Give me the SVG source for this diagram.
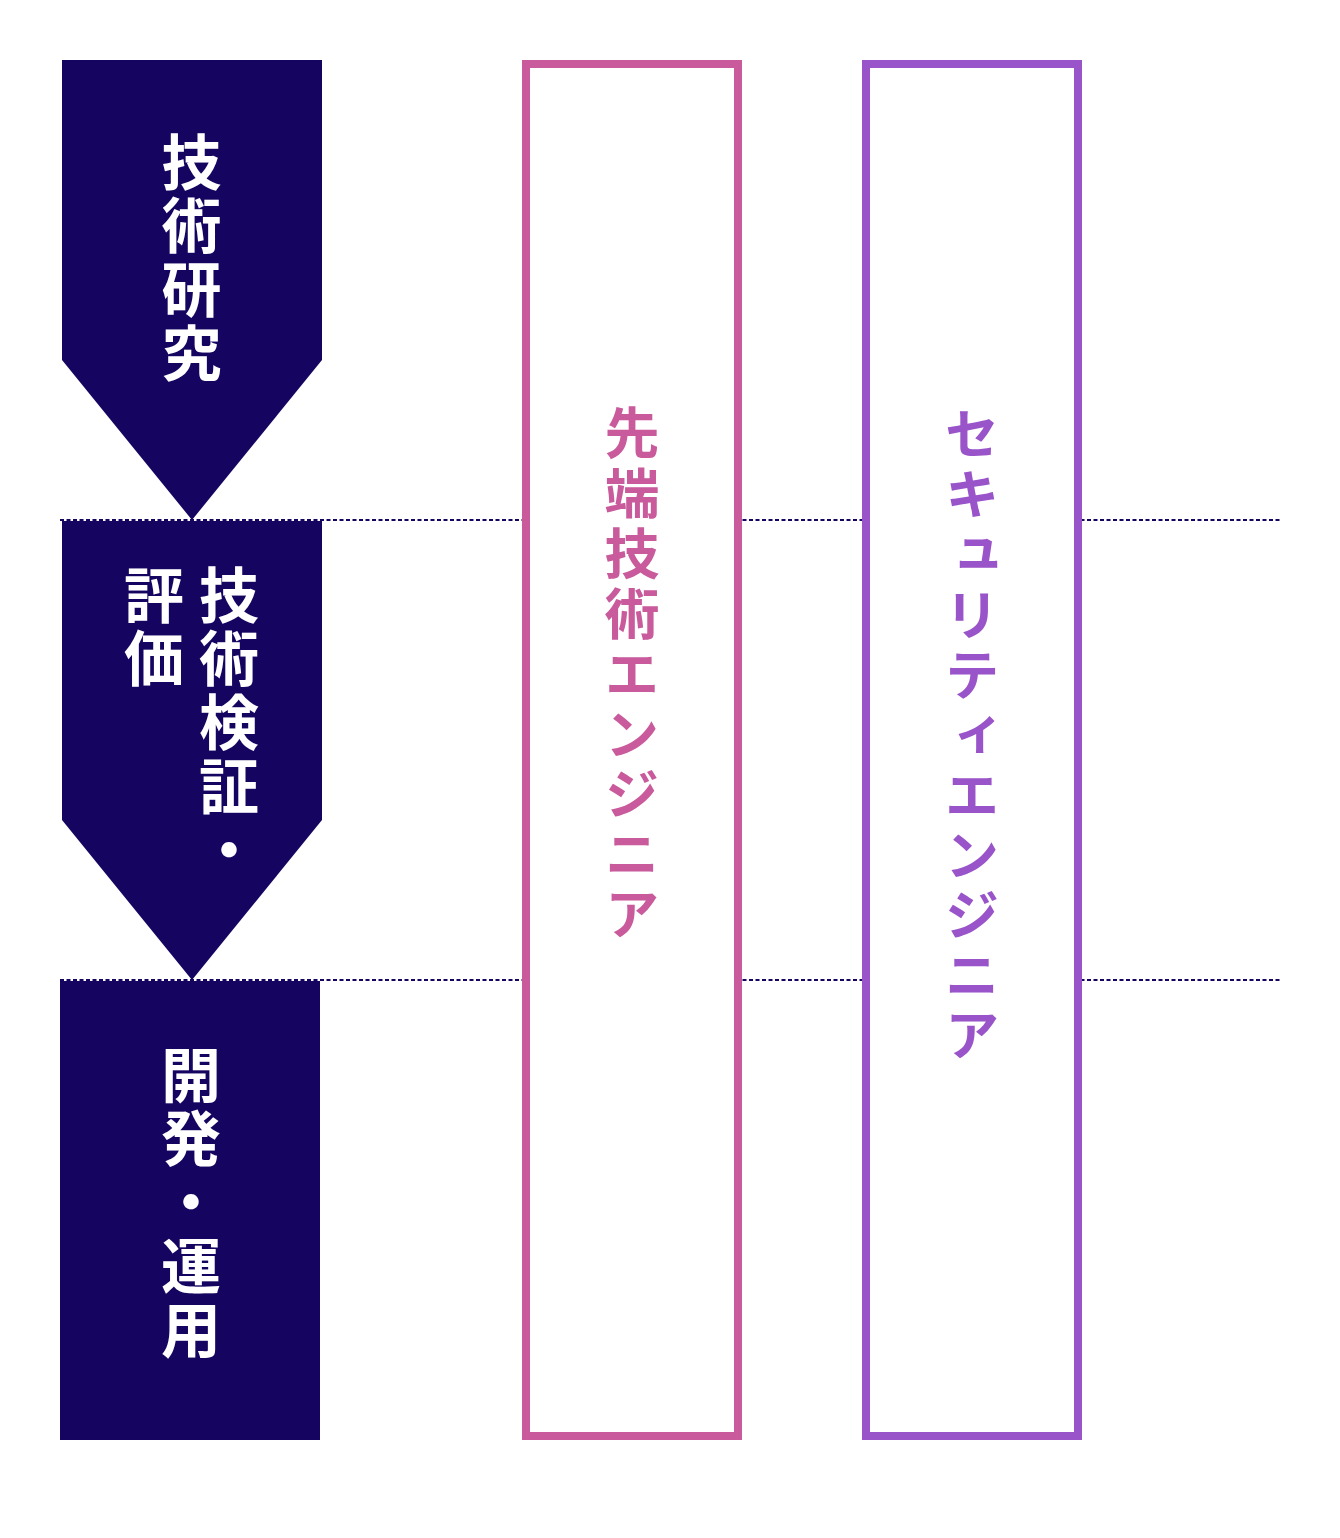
<svg xmlns="http://www.w3.org/2000/svg" width="1340" height="1538" viewBox="0 0 1340 1538">
  <style>
    .stage { fill: #160560; }
    .stage-label { font-family: "Noto Sans CJK JP", "Noto Sans", sans-serif; font-weight: 700; font-size: 60px; fill: #ffffff; writing-mode: vertical-rl; letter-spacing: 3.7px; }
    .role-label { font-family: "Noto Sans CJK JP", "Noto Sans", sans-serif; font-weight: 700; font-size: 55px; writing-mode: vertical-rl; letter-spacing: 5.1px; }
    .divider { stroke: #160560; stroke-width: 2; stroke-dasharray: 4 2.5; fill: none; }
    .role-box { fill: #ffffff; stroke-width: 8; }
  </style>
  <rect width="1340" height="1538" fill="#ffffff"/>

  <g id="stage-research">
    <polygon class="stage" points="62,60 322,60 322,360 192,520 62,360"/>
    <text class="stage-label" x="191.5" y="132">技術研究</text>
  </g>

  <g id="stage-verification">
    <polygon class="stage" points="62,521 322,521 322,820 192,980 62,820"/>
    <text class="stage-label" x="229" y="565">技術検証・</text>
    <text class="stage-label" x="154" y="565">評価</text>
  </g>

  <g id="stage-development">
    <rect class="stage" x="60" y="981" width="260" height="459"/>
    <text class="stage-label" x="191" y="1045">開発・運用</text>
  </g>

  <g id="connectors">
    <line class="divider" x1="60" y1="520" x2="1280" y2="520"/>
    <line class="divider" x1="60" y1="980" x2="1280" y2="980"/>
  </g>

  <g id="role-advanced">
    <rect class="role-box" x="526" y="64" width="212" height="1372" stroke="#c95a9b"/>
    <text class="role-label" x="632" y="405" fill="#c95a9b">先端技術エンジニア</text>
  </g>

  <g id="role-security">
    <rect class="role-box" x="866" y="64" width="212" height="1372" stroke="#9a54c9"/>
    <text class="role-label" x="972" y="406" fill="#9a54c9">セキュリティエンジニア</text>
  </g>
</svg>
